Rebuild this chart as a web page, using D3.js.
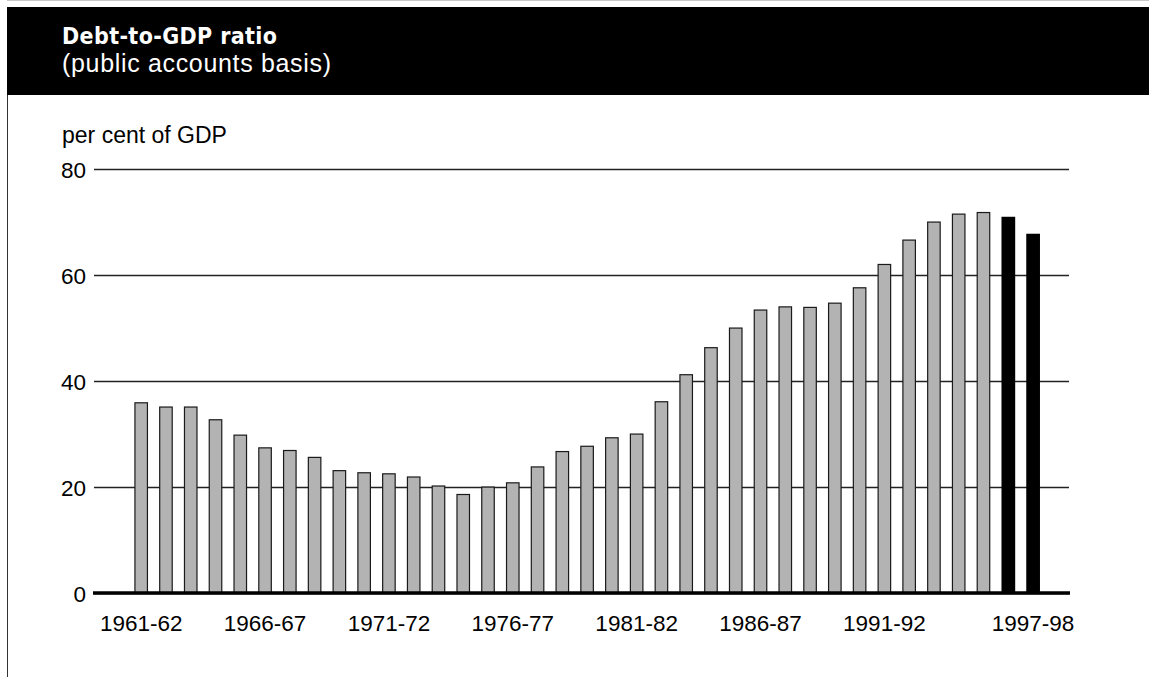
<!DOCTYPE html>
<html>
<head>
<meta charset="utf-8">
<script src="https://cdn.jsdelivr.net/npm/d3@7"></script>
<style>
  html, body { margin: 0; padding: 0; background: #fff; }
  svg { display: block; }
</style>
</head>
<body>
<svg id="chart" width="1149" height="677"></svg>
<script>
// ---- data ----
const years = [
  "1961-62","1962-63","1963-64","1964-65","1965-66","1966-67","1967-68","1968-69",
  "1969-70","1970-71","1971-72","1972-73","1973-74","1974-75","1975-76","1976-77",
  "1977-78","1978-79","1979-80","1980-81","1981-82","1982-83","1983-84","1984-85",
  "1985-86","1986-87","1987-88","1988-89","1989-90","1990-91","1991-92","1992-93",
  "1993-94","1994-95","1995-96","1996-97","1997-98"
];
const debtRatio = [
  36.0, 35.2, 35.2, 32.8, 29.9, 27.5, 27.0, 25.7,
  23.2, 22.8, 22.6, 22.0, 20.3, 18.7, 20.1, 20.9,
  23.9, 26.8, 27.8, 29.4, 30.1, 36.2, 41.3, 46.4,
  50.1, 53.5, 54.1, 54.0, 54.8, 57.7, 62.1, 66.7,
  70.1, 71.6, 71.9, 71.1, 67.9
];
// "actual" or "estimate" (estimates drawn black)
const status = [
  "actual","actual","actual","actual","actual","actual","actual","actual",
  "actual","actual","actual","actual","actual","actual","actual","actual",
  "actual","actual","actual","actual","actual","actual","actual","actual",
  "actual","actual","actual","actual","actual","actual","actual","actual",
  "actual","actual","actual","estimate","estimate"
];
const yTicks = [0, 20, 40, 60, 80];
const xTickLabels = ["1961-62","1966-67","1971-72","1976-77","1981-82","1986-87","1991-92","1997-98"];
const titleText = "Debt-to-GDP ratio";
const subtitleText = "(public accounts basis)";
const unitText = "per cent of GDP";

// ---- layout ----
const svg = d3.select("#chart");
const W = 1149, H = 677;
const plotLeft = 94, plotRight = 1069;
const y0px = 593, y80px = 169;

const data = years.map((yr, i) => ({ year: yr, value: debtRatio[i], status: status[i] }));

const x = d3.scaleBand()
  .domain(years)
  .range([128.8, 1045.4])
  .paddingInner(0.495)
  .paddingOuter(0.2475);

const y = d3.scaleLinear().domain([0, 80]).range([y0px, y80px]);

// header band
svg.append("line")
  .attr("x1", 7).attr("x2", W).attr("y1", 0.5).attr("y2", 0.5)
  .attr("stroke", "#c8c8c8").attr("stroke-width", 1);
svg.append("rect")
  .attr("x", 7).attr("y", 7).attr("width", W - 7).attr("height", 88)
  .attr("fill", "#000");
svg.append("line")
  .attr("x1", 7.5).attr("x2", 7.5).attr("y1", 95).attr("y2", H)
  .attr("stroke", "#333").attr("stroke-width", 1);

svg.append("text")
  .attr("x", 62).attr("y", 43.5)
  .attr("fill", "#fff")
  .attr("font-family", "'DejaVu Sans Condensed', 'Liberation Sans Narrow', 'Arial Narrow', sans-serif")
  .attr("font-weight", "bold")
  .attr("font-size", 23)
  .attr("textLength", 215)
  .attr("lengthAdjust", "spacing")
  .text(titleText);

svg.append("text")
  .attr("x", 62).attr("y", 72)
  .attr("fill", "#fff")
  .attr("font-family", "'Liberation Sans', Arial, sans-serif")
  .attr("font-size", 25)
  .attr("textLength", 269)
  .attr("lengthAdjust", "spacing")
  .text(subtitleText);

// unit label
svg.append("text")
  .attr("x", 62).attr("y", 143)
  .attr("fill", "#000")
  .attr("font-family", "'Liberation Sans', Arial, sans-serif")
  .attr("font-size", 23)
  .text(unitText);

// y axis with gridlines
const yAxis = d3.axisLeft(y)
  .tickValues(yTicks)
  .tickSize(-(plotRight - plotLeft))
  .tickPadding(8)
  .tickFormat(d3.format("d"));

const gy = svg.append("g")
  .attr("transform", `translate(${plotLeft},0)`)
  .call(yAxis);
gy.select(".domain").remove();
gy.selectAll(".tick line")
  .attr("stroke", "#222").attr("stroke-width", 1.3);
gy.selectAll(".tick text")
  .attr("font-family", "'Liberation Sans', Arial, sans-serif")
  .attr("font-size", 22.5)
  .attr("fill", "#000")
  .attr("dy", "0.36em");

// bars
svg.append("g")
  .selectAll("rect")
  .data(data)
  .join("rect")
  .attr("x", d => x(d.year) + (d.status === "estimate" ? -0.5 : 0))
  .attr("width", d => x.bandwidth() + (d.status === "estimate" ? 1.2 : 0))
  .attr("y", d => y(d.value) + 0.6)
  .attr("height", d => y0px - y(d.value) - 0.6)
  .attr("fill", d => d.status === "estimate" ? "#000" : "#b3b3b3")
  .attr("stroke", d => d.status === "estimate" ? "none" : "#1a1a1a")
  .attr("stroke-width", 1.2);

// zero baseline
svg.append("line")
  .attr("x1", plotLeft - 1).attr("x2", plotRight + 1)
  .attr("y1", y(0)).attr("y2", y(0))
  .attr("stroke", "#000").attr("stroke-width", 3.5);

// x axis labels
const xAxis = d3.axisBottom(x)
  .tickValues(xTickLabels)
  .tickSize(0)
  .tickPadding(22);
const gx = svg.append("g")
  .attr("transform", `translate(0,${y0px})`)
  .call(xAxis);
gx.select(".domain").remove();
gx.selectAll(".tick text")
  .attr("font-family", "'Liberation Sans', Arial, sans-serif")
  .attr("font-size", 22.5)
  .attr("fill", "#000");
</script>
</body>
</html>
